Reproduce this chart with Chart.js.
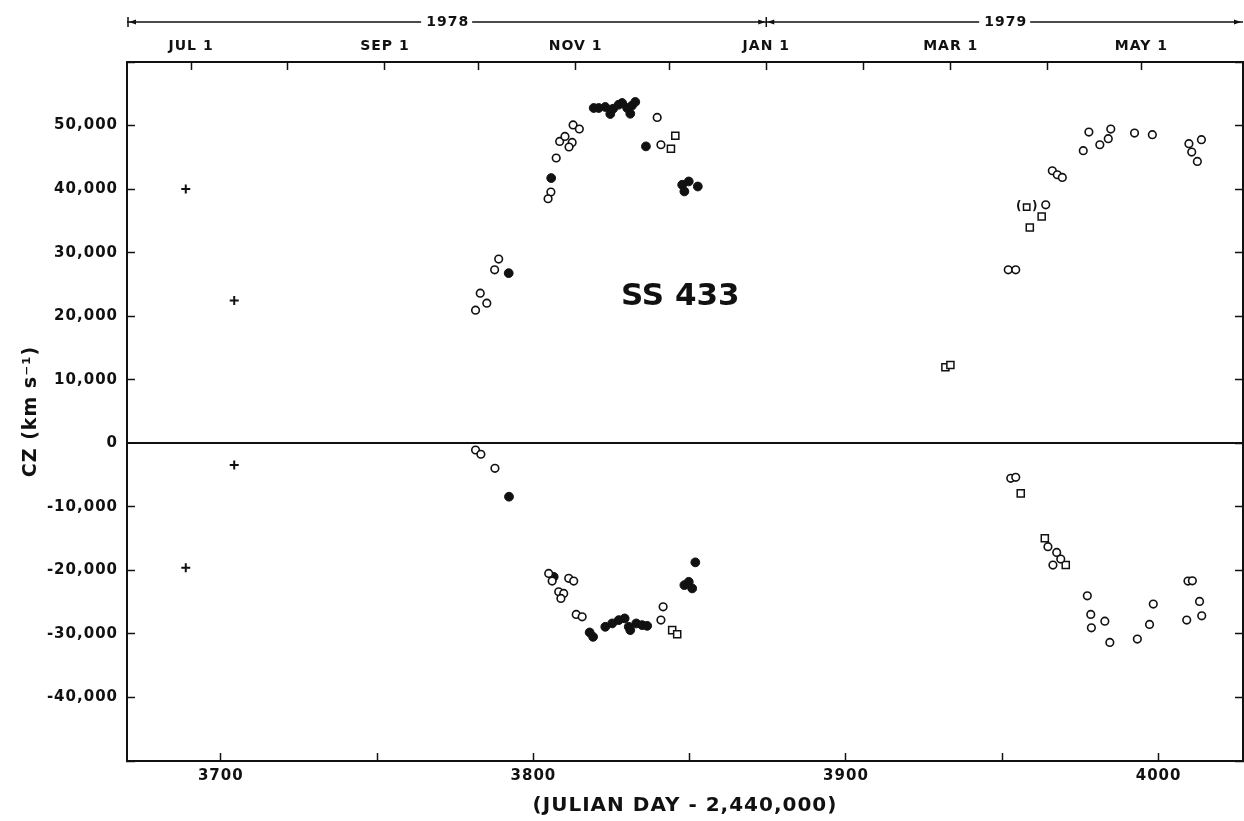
<!DOCTYPE html>
<html>
<head>
<meta charset="utf-8">
<title>SS 433</title>
<script src="https://cdn.jsdelivr.net/npm/chart.js@4.4.1/dist/chart.umd.min.js"></script>
<style>
  html, body { margin: 0; padding: 0; background: #fff; }
  #wrap { width: 1244px; height: 821px; }
</style>
</head>
<body>
<div id="wrap"><canvas id="chart" width="1244" height="821"></canvas></div>
<script>
// x = Julian day - 2,440,000 ; y = cz in km/s
const plusDays = [3688.8, 3704.3, 3704.3, 3688.8];
const plusCz   = [40000, 22460, -3400, -19600];

const openDays = [
  3788.9, 3787.6, 3783.0, 3785.1, 3781.5, 3781.5, 3783.2, 3787.7,
  3805.6, 3804.7, 3807.3, 3808.4, 3810.1, 3812.4, 3811.4, 3812.7, 3814.7, 3839.6, 3840.8,
  3804.9, 3806.0, 3811.3, 3812.9, 3808.1, 3809.7, 3808.8, 3813.7, 3815.6, 3841.5, 3840.8,
  3977.7, 3984.7, 3983.9, 3981.2, 3975.9, 3992.3, 3998.0, 4009.7, 4013.7, 4010.6, 4012.4,
  3966.0, 3967.6, 3969.2, 3963.9, 3951.9, 3954.3,
  3952.7, 3954.3, 3964.6, 3967.4, 3968.7, 3966.2, 3977.2, 3978.3, 3978.5, 3982.8,
  3984.4, 3993.2, 3997.1, 3998.3, 4009.4, 4010.8, 4013.1, 4009.0, 4013.8
];
const openCz = [
  28980, 27290, 23620, 22050, 20950, -1060, -1730, -3940,
  39530, 38480, 44890, 47500, 48290, 47350, 46620, 50090, 49460, 51280, 46980,
  -20480, -21690, -21260, -21690, -23370, -23630, -24410, -26930, -27310, -25740, -27830,
  48980, 49450, 47930, 46980, 46040, 48820, 48560, 47140, 47770, 45830, 44350,
  42890, 42260, 41830, 37530, 27290, 27290,
  -5510, -5360, -16280, -17170, -18220, -19170, -24000, -26930, -29040, -27990,
  -31340, -30820, -28510, -25310, -21690, -21640, -24890, -27830, -27150
];

const filledDays = [
  3792.1, 3792.2, 3805.7, 3819.3, 3820.9, 3823.0, 3824.6, 3825.5, 3827.3, 3828.4,
  3830.0, 3831.0, 3831.5, 3832.6, 3836.0, 3847.6, 3849.7, 3848.3, 3852.6,
  3806.5, 3818.0, 3819.1, 3823.0, 3825.2, 3827.3, 3829.2, 3830.5, 3831.0, 3832.9,
  3834.8, 3836.4, 3851.8, 3848.3, 3849.7, 3850.8
];
const filledCz = [
  26770, -8410, 41740, 52760, 52760, 52920, 51820, 52650, 53280, 53550,
  52760, 51860, 53120, 53710, 46720, 40680, 41200, 39630, 40410,
  -21010, -29770, -30460, -28880, -28350, -27830, -27560, -28880, -29400, -28350,
  -28620, -28730, -18740, -22320, -21800, -22840
];

const squareDays = [3845.4, 3844.0, 3844.4, 3846.0, 3962.6, 3958.8, 3931.8, 3933.4, 3955.9, 3963.6, 3970.3];
const squareCz   = [48400, 46350, -29400, -30040, 35690, 33960, 11970, 12330, -7880, -14960, -19170];

// uncertain measurement, shown in brackets
const bracketDays = [3957.8];
const bracketCz   = [37170];

// axes
const dayTicks = [3700, 3750, 3800, 3850, 3900, 3950, 4000];
const monthDays = [3690.5, 3721.5, 3752.5, 3782.5, 3813.5, 3843.5, 3874.5, 3905.5, 3933.5, 3964.5, 3994.5];
const monthLabels = ['JUL 1', '', 'SEP 1', '', 'NOV 1', '', 'JAN 1', '', 'MAR 1', '', 'MAY 1'];
const years = ['1978', '1979'];
const yearBreak = 3874.5;
const objectName = 'SS 433';
const nameDay = 3847;
const nameCz = 23100;

const INK = '#111';
Chart.defaults.font.family = '"DejaVu Sans", sans-serif';
Chart.defaults.font.weight = 'bold';
Chart.defaults.color = INK;

const toPts = (xs, ys) => xs.map((x, i) => ({ x: x, y: ys[i] }));

// fixed box sizes, and no extra label overhang padding
const fixH = h => s => { s.height = h; s.paddingLeft = 0; s.paddingRight = 0; };
const fixW = w => s => { s.width = w; s.paddingTop = 0; s.paddingBottom = 0; };

const decor = {
  id: 'decor',
  beforeDraw(chart) {
    chart.ctx.letterSpacing = '1px';
  },
  afterDraw(chart) {
    const { ctx, scales: { x, y } } = chart;
    ctx.save();
    ctx.letterSpacing = '0px';
    ctx.fillStyle = INK;
    ctx.strokeStyle = INK;
    ctx.textAlign = 'center';
    ctx.textBaseline = 'middle';

    // brackets round the uncertain square
    ctx.font = 'bold 12px "DejaVu Sans"';
    chart.getDatasetMeta(4).data.forEach(p => {
      ctx.fillText('(', p.x - 8, p.y);
      ctx.fillText(')', p.x + 8, p.y);
    });

    // object name
    ctx.font = 'bold 31px "DejaVu Sans"';
    ctx.fillText(objectName, x.getPixelForValue(nameDay), y.getPixelForValue(nameCz));

    // year bar above the month axis
    const yb = chart.chartArea.top - 40;
    const mid = x.getPixelForValue(yearBreak);
    const segs = [[x.left, mid], [mid, x.right]];
    ctx.font = 'bold 14px "DejaVu Sans"';
    ctx.letterSpacing = '1px';
    ctx.lineWidth = 1.5;
    segs.forEach((s, i) => {
      const c = (s[0] + s[1]) / 2;
      const w = ctx.measureText(years[i]).width / 2 + 4;
      ctx.beginPath();
      ctx.moveTo(s[0], yb); ctx.lineTo(c - w, yb);
      ctx.moveTo(c + w, yb); ctx.lineTo(s[1], yb);
      ctx.stroke();
      ctx.fillText(years[i], c + 1, yb);
    });
    const arrow = (px, dir) => {
      ctx.beginPath();
      ctx.moveTo(px, yb);
      ctx.lineTo(px - dir * 7, yb - 2.5);
      ctx.lineTo(px - dir * 7, yb + 2.5);
      ctx.closePath();
      ctx.fill();
    };
    ctx.beginPath();
    ctx.moveTo(x.left + 1, yb - 5); ctx.lineTo(x.left + 1, yb + 5);
    ctx.moveTo(mid, yb - 5); ctx.lineTo(mid, yb + 5);
    ctx.stroke();
    arrow(x.left + 2, -1);
    arrow(mid - 1, 1);
    arrow(mid + 1, -1);
    arrow(x.right - 2, 1);
    ctx.restore();
  }
};

const inward = { drawOnChartArea: false, tickLength: -8, tickColor: INK, tickWidth: 1.5 };
const edge = { color: INK, width: 2 };

new Chart(document.getElementById('chart'), {
  type: 'scatter',
  data: {
    datasets: [
      { label: 'open', data: toPts(openDays, openCz), pointStyle: 'circle', pointRadius: 3.8,
        borderWidth: 1.6, borderColor: INK, backgroundColor: '#fff' },
      { label: 'filled', data: toPts(filledDays, filledCz), pointStyle: 'circle', pointRadius: 4.4,
        borderWidth: 1, borderColor: INK, backgroundColor: INK },
      { label: 'square', data: toPts(squareDays, squareCz), pointStyle: 'rect', pointRadius: 5,
        borderWidth: 1.5, borderColor: INK, backgroundColor: '#fff' },
      { label: 'plus', data: toPts(plusDays, plusCz), pointStyle: 'cross', pointRadius: 4.5,
        borderWidth: 2, borderColor: INK },
      { label: 'bracket', data: toPts(bracketDays, bracketCz), pointStyle: 'rect', pointRadius: 4.5,
        borderWidth: 1.5, borderColor: INK, backgroundColor: '#fff' }
    ]
  },
  options: {
    responsive: false,
    animation: false,
    events: [],
    layout: { padding: 0, autoPadding: false },
    plugins: { legend: { display: false }, tooltip: { enabled: false } },
    scales: {
      x: {
        type: 'linear', position: 'bottom', min: 3670, max: 4027,
        afterBuildTicks: s => { s.ticks = dayTicks.map(v => ({ value: v })); },
        afterFit: fixH(60),
        grid: inward, border: edge,
        ticks: { padding: 14, font: { size: 15 }, maxRotation: 0,
          callback: v => (v % 100 === 0 ? String(v) : '') },
        title: { display: true, text: '(JULIAN DAY - 2,440,000)', font: { size: 20 }, padding: { top: 0, bottom: 3 } }
      },
      x2: {
        type: 'linear', position: 'top', min: 3670, max: 4027,
        afterBuildTicks: s => { s.ticks = monthDays.map(v => ({ value: v })); },
        afterFit: fixH(62),
        grid: inward, border: edge,
        ticks: { padding: 15, font: { size: 14 }, maxRotation: 0, autoSkip: false,
          callback: (v, i) => monthLabels[i] }
      },
      y: {
        position: 'left', min: -50000, max: 60000,
        afterFit: fixW(127),
        grid: {
          drawOnChartArea: true, tickLength: -8, tickColor: INK, tickWidth: 1.5,
          color: c => (c.tick && c.tick.value === 0 ? INK : 'rgba(0,0,0,0)'),
          lineWidth: c => (c.tick && c.tick.value === 0 ? 2 : 1)
        },
        border: edge,
        ticks: { stepSize: 10000, padding: 17, font: { size: 15 },
          callback: v => (v === 60000 || v === -50000 ? '' : v.toLocaleString('en-US')) },
        title: { display: true, text: 'CZ (km s\u207B\u00B9)', font: { size: 19 }, padding: { top: 20, bottom: 0 } }
      },
      y2: {
        position: 'right', min: -50000, max: 60000,
        afterFit: fixW(1),
        grid: inward, border: edge,
        ticks: { stepSize: 10000, display: false }
      }
    }
  },
  plugins: [decor]
});
</script>
</body>
</html>
